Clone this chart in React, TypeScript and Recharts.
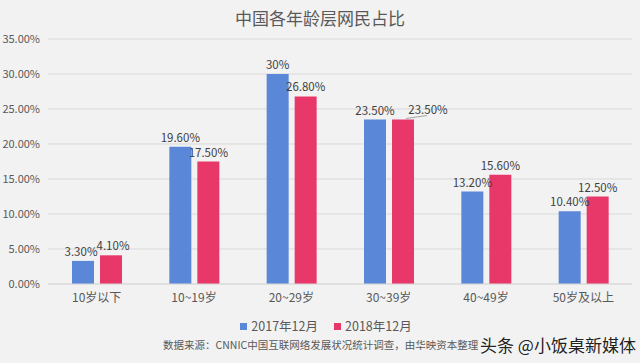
import React from "react";
import { BarChart, Bar, XAxis, YAxis, CartesianGrid, Legend, LabelList } from "recharts";

const categories = ["10岁以下", "10~19岁", "20~29岁", "30~39岁", "40~49岁", "50岁及以上"];
const values2017 = [3.3, 19.6, 30, 23.5, 13.2, 10.4];
const values2018 = [4.1, 17.5, 26.8, 23.5, 15.6, 12.5];
const labels2017 = ["3.30%", "19.60%", "30%", "23.50%", "13.20%", "10.40%"];
const labels2018 = ["4.10%", "17.50%", "26.80%", "23.50%", "15.60%", "12.50%"];
const yTicks = [0, 5, 10, 15, 20, 25, 30, 35];
const seriesNames = ["2017年12月", "2018年12月"];
const title = "中国各年龄层网民占比";
const sourceText = "数据来源：CNNIC中国互联网络发展状况统计调查，由华映资本整理";
const watermark = "头条 @小饭桌新媒体";

const data = categories.map((c, i) => ({
  name: c,
  a: values2017[i],
  b: values2018[i],
}));

const FONT = '"Noto Sans CJK SC", "Noto Sans", sans-serif';

const makeLabel = (labels: string[], shifted: number | null, dx: number) => (props: any) => {
  const { x, y, width, index } = props;
  const cx = Number(x) + Number(width) / 2;
  const ty = Number(y);
  if (shifted !== null && index === shifted) {
    return (
      <g>
        <line x1={cx + 3} y1={ty - 1} x2={cx + 24} y2={ty - 4} stroke="#a6a6a6" strokeWidth={1} />
        <text x={cx + 25} y={ty - 11} textAnchor="middle" dominantBaseline="central" fill="#404040" fontSize={11.5} fontFamily={FONT}>
          {labels[index]}
        </text>
      </g>
    );
  }
  return (
    <text x={cx + (index === 0 ? dx : 0)} y={ty - 10} textAnchor="middle" dominantBaseline="central" fill="#404040" fontSize={11.5} fontFamily={FONT}>
      {labels[index]}
    </text>
  );
};

export default function App() {
  return (
    <div
      style={{
        position: "absolute",
        left: 0,
        top: 0,
        width: 640,
        height: 363,
        background: "#f2f2f2",
        fontFamily: FONT,
        overflow: "hidden",
      }}
    >
      <div
        style={{
          position: "absolute",
          left: 0,
          top: 7,
          width: 640,
          textAlign: "center",
          fontSize: 17,
          lineHeight: "22px",
          color: "#595959",
        }}
      >
        {title}
      </div>
      <BarChart
        width={640}
        height={363}
        data={data}
        margin={{ top: 39, right: 8, bottom: 31, left: 0 }}
        barGap={6}
        style={{ fontFamily: FONT }}
      >
        <CartesianGrid vertical={false} stroke="#d9d9d9" />
        <XAxis
          dataKey="name"
          height={28}
          tickLine={false}
          axisLine={{ stroke: "#d9d9d9" }}
          tick={{ fill: "#595959", fontSize: 12 }}
          tickMargin={3}
          interval={0}
        />
        <YAxis
          width={48}
          domain={[0, 35]}
          ticks={yTicks}
          tickFormatter={(v: number) => v.toFixed(2) + "%"}
          tickLine={false}
          axisLine={false}
          tick={{ fill: "#595959", fontSize: 11 }}
        />
        <Legend
          verticalAlign="bottom"
          height={20}
          iconType="square"
          iconSize={7}
          wrapperStyle={{ paddingLeft: 18 }}
          formatter={(value: string) => (
            <span style={{ color: "#595959", fontSize: 12.5, marginRight: 6 }}>{value}</span>
          )}
        />
        <Bar dataKey="a" name={seriesNames[0]} fill="#5b87d8" barSize={22} isAnimationActive={false}>
          <LabelList dataKey="a" content={makeLabel(labels2017, null, -2)} />
        </Bar>
        <Bar dataKey="b" name={seriesNames[1]} fill="#e8386a" barSize={22} isAnimationActive={false}>
          <LabelList dataKey="b" content={makeLabel(labels2018, 3, 2)} />
        </Bar>
      </BarChart>
      <div
        style={{
          position: "absolute",
          left: 163,
          top: 338,
          fontSize: 10.5,
          lineHeight: "14px",
          color: "#595959",
          whiteSpace: "nowrap",
        }}
      >
        {sourceText}
      </div>
      <div
        style={{
          position: "absolute",
          left: 480,
          top: 334,
          fontSize: 17,
          lineHeight: "22px",
          color: "#222222",
          whiteSpace: "nowrap",
          textShadow: "0 0 2px #ffffff",
        }}
      >
        {watermark}
      </div>
    </div>
  );
}
